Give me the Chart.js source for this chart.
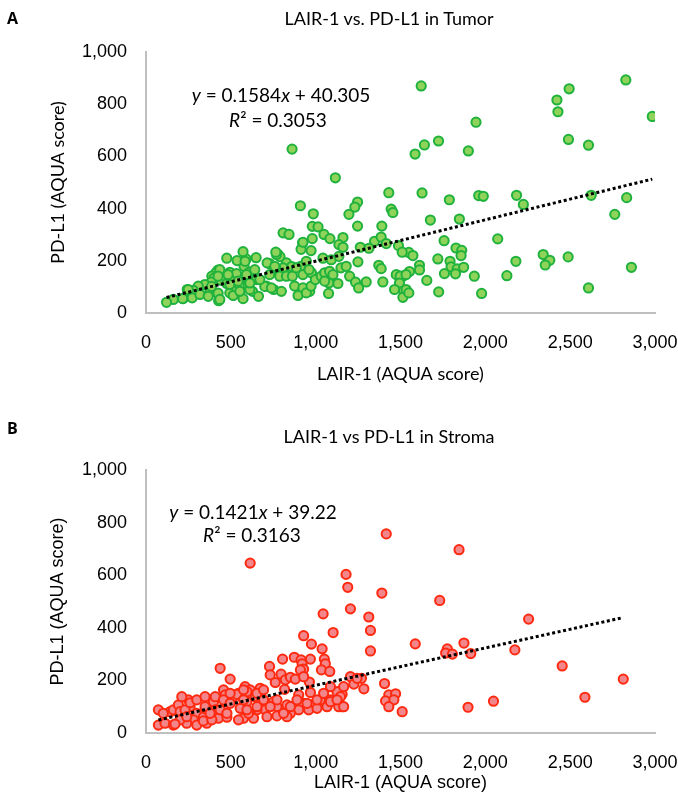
<!DOCTYPE html>
<html><head><meta charset="utf-8">
<script src="https://cdn.jsdelivr.net/npm/chart.js@4/dist/chart.umd.min.js"></script>
<style>
html,body{margin:0;padding:0;background:#fff;}
body{width:678px;height:794px;position:relative;overflow:hidden;}
canvas{position:absolute;left:0;}
.lbl{position:absolute;white-space:nowrap;color:#000;line-height:22px;}
.panel{font-family:'Open Sans',sans-serif;font-weight:bold;font-size:16px;}
.title{font-family:Lato,sans-serif;font-size:18px;transform:translateX(-50%);}
.eq{font-family:Lato,sans-serif;font-size:19px;transform:translateX(-50%);}
</style>
</head><body>
<canvas id="cA" width="678" height="400" style="top:0"></canvas>
<canvas id="cB" width="678" height="394" style="top:400px"></canvas>
<div class="lbl panel" style="left:7px;top:7px">A</div>
<div class="lbl title" style="left:389px;top:7px">LAIR-1 vs. PD-L1 in Tumor</div>
<div class="lbl eq" style="left:281px;top:84px"><i>y</i> = 0.1584<i>x</i> + 40.305</div>
<div class="lbl eq" style="left:278px;top:109px"><i>R</i>² = 0.3053</div>
<div class="lbl panel" style="left:7px;top:417px">B</div>
<div class="lbl title" style="left:389px;top:425px">LAIR-1 vs PD-L1 in Stroma</div>
<div class="lbl eq" style="left:253px;top:501px"><i>y</i> = 0.1421<i>x</i> + 39.22</div>
<div class="lbl eq" style="left:252px;top:524px"><i>R</i>² = 0.3163</div>
<script>
// ---- Data ----
const xTickValues = [0, 500, 1000, 1500, 2000, 2500, 3000];
const xTickLabels = ['0', '500', '1,000', '1,500', '2,000', '2,500', '3,000'];
const yTickValues = [0, 200, 400, 600, 800, 1000];
const yTickLabels = ['0', '200', '400', '600', '800', '1,000'];

const tumorX = [1622,2828,2494,2422,2428,2984,1945,2490,1724,1641,2608,1586,1900,1627,1788,1961,1988,2184,2224,2624,2833,2763,1676,1847,2073,1757,1827,1861,1857,1549,1573,1720,1792,1798,1834,1872,1612,1612,1553,1759,1824,1935,1655,2180,2127,2341,2380,2353,2488,2861,2608,1725,1978,1514,1518,1514,
861,1116,1431,1445,1455,1247,1231,1196,910,986,980,1014,1247,1390,1049,1084,1161,808,843,980,923,914,973,1137,1161,1347,1386,1416,1263,1314,1488,1510,776,790,828,859,808,729,765,649,590,578,608,602,476,537,572,584,424,412,388,400,384,443,494,533,498,476,347,308,243,278,219,272,161,121,373,425,428,494,533,559,582,494,553,572,514,651,628,663,602,710,753,798,729,788,828,863,876,925,896,965,945,973,912,925,975,998,1033,1053,1082,1102,1078,1053,1131,1076,1043,1092,1137,1149,1180,1200,1235,1253,1298,1249,1372,1386,1396,1475,1498,1533,1494,1465,1533,1549,
216,249,318,367,386,435,435,553,612,700,714,739,769,425,484,543,592,641,671,612,925,765,759,886,945,961];
const tumorY = [870,893,859,816,771,753,731,665,659,644,643,609,621,460,434,450,447,451,416,451,442,378,356,360,284,277,249,240,220,232,220,207,198,177,169,175,183,165,159,151,150,141,125,198,143,224,202,184,215,175,96,81,75,141,87,60,
628,518,461,398,385,425,406,378,411,380,332,330,333,333,301,285,289,307,301,285,268,244,239,262,252,275,291,266,252,248,258,233,226,216,192,178,173,189,173,212,207,179,156,141,210,201,235,198,164,154,141,133,118,125,156,151,125,113,109,103,90,87,55,58,52,41,75,76,47,77,96,87,105,109,103,55,67,128,83,64,103,103,90,83,147,141,141,141,103,96,67,83,77,103,179,147,154,128,141,154,160,147,115,122,113,75,210,204,217,173,179,141,118,96,119,196,183,170,119,147,141,147,115,90,90,77,
55,90,71,64,102,166,52,83,90,102,192,96,224,141,147,122,147,166,128,115,271,233,179,173,198,166];

const stromaX = [1416,1845,1179,1189,1390,1731,1205,1313,1323,1323,2255,1587,1776,1766,1806,1874,1914,2174,2453,2813,2587,2048,1898,1406,1431,1471,1412,1461,1431,1510,1270,1205,1225,1284,1156,1156,
1044,1103,929,975,1038,1051,1057,1034,1083,805,874,914,969,920,929,728,732,796,762,821,851,880,963,817,900,969,1028,1087,1126,1165,1244,1146,1087,584,614,673,644,595,673,722,752,772,703,654,614,575,634,713,772,831,870,929,979,900,959,1008,1067,851,831,1087,1136,
437,496,457,467,73,112,161,142,161,191,201,250,260,299,279,220,338,358,398,408,427,477,457,486,516,545,555,595,545,604,358,299,240,201,
614,910,929,171,338,388,73,230,260,299,348,408,457,496,536,575,654,693,102,211,240,348,378,437,477,496,575,595,654,693,732,772,811,851,890,949,1008,1047,1126,1165];
const stromaY = [757,697,603,554,532,504,472,441,390,312,433,339,320,304,300,342,302,316,255,205,136,121,98,188,145,149,122,126,100,81,208,214,186,168,147,100,
453,382,370,338,320,281,263,240,234,281,288,278,281,263,243,253,221,224,192,202,212,205,194,166,145,154,126,126,157,176,208,138,176,176,164,170,138,119,113,107,119,100,88,88,75,56,56,62,65,107,100,113,107,88,88,94,100,75,62,119,100,
246,205,164,145,30,37,30,81,88,107,81,126,100,75,50,56,60,90,119,88,56,60,90,119,138,151,94,157,50,75,37,30,37,50,
646,240,214,34,46,50,88,88,115,126,100,138,126,113,147,164,151,126,75,138,62,138,75,88,75,151,126,88,100,164,100,126,75,100,126,113,126,151,126,100];

// Trend lines as printed on the chart
const tumorSlope = 0.1584, tumorIntercept = 40.305;
const stromaSlope = 0.1421, stromaIntercept = 39.22;

function pairs(xs, ys){ return xs.map((x,i)=>({x:x, y:ys[i]})); }
function trend(xs, m, b){
  const lo = Math.min(...xs), hi = Math.max(...xs);
  return [{x:lo, y:m*lo+b}, {x:hi, y:m*hi+b}];
}

function makeChart(id, cfg){
  const tickFont = {family:'"Liberation Sans", Arial, sans-serif', size:18};
  new Chart(document.getElementById(id), {
    type:'scatter',
    data:{datasets:[
      {type:'line', data:trend(cfg.xs, cfg.m, cfg.b), borderColor:'#000', borderWidth:3,
       borderDash:[3,2.6], pointRadius:0, fill:false, order:0},
      {data:pairs(cfg.xs, cfg.ys), backgroundColor:cfg.fill, borderColor:cfg.border,
       borderWidth:2, pointRadius:4.6, pointHoverRadius:4.6, order:1}
    ]},
    options:{
      responsive:false, animation:false, devicePixelRatio:1,
      events:[],
      layout:{padding:{top:cfg.top, right:23, left:0, bottom:0}},
      plugins:{legend:{display:false}, tooltip:{enabled:false}},
      scales:{
        x:{type:'linear', min:0, max:3000,
           afterBuildTicks:s=>{s.ticks = xTickValues.map(v=>({value:v}));},
           afterFit:s=>{s.height = cfg.xAxisH; s.paddingLeft = 0; s.paddingRight = 0;},
           ticks:{padding:19, color:'#000', font:tickFont, maxRotation:0,
                  callback:(v,i)=>xTickLabels[i]},
           grid:{display:false, drawTicks:false},
           border:{display:true, color:'#BFBFBF', width:2},
           title:{display:true, text:'LAIR-1 (AQUA score)', color:'#000',
                  font:cfg.titleFont, padding:{top:0, bottom:cfg.xTitlePad}}},
        y:{type:'linear', min:0, max:1000,
           afterBuildTicks:s=>{s.ticks = yTickValues.map(v=>({value:v}));},
           afterFit:s=>{s.width = 146; s.paddingTop = 0; s.paddingBottom = 0;},
           ticks:{padding:19, color:'#000', font:tickFont,
                  callback:(v,i)=>yTickLabels[i]},
           grid:{display:false, drawTicks:false},
           border:{display:true, color:'#BFBFBF', width:2},
           title:{display:true, text:'PD-L1 (AQUA score)', color:'#000',
                  font:cfg.titleFont, padding:{top:47, bottom:0}}}
      }
    }
  });
}

makeChart('cA', {xs:tumorX, ys:tumorY, m:tumorSlope, b:tumorIntercept,
  fill:'#8FD35A', border:'#1FB23C', top:52, xAxisH:87, xTitlePad:15,
  titleFont:{family:'Lato, sans-serif', size:18}});
makeChart('cB', {xs:stromaX, ys:stromaY, m:stromaSlope, b:stromaIntercept,
  fill:'#F3868A', border:'#FF2A10', top:70, xAxisH:61, xTitlePad:0,
  titleFont:{family:'"Liberation Sans", Arial, sans-serif', size:18}});
</script>
</body></html>
